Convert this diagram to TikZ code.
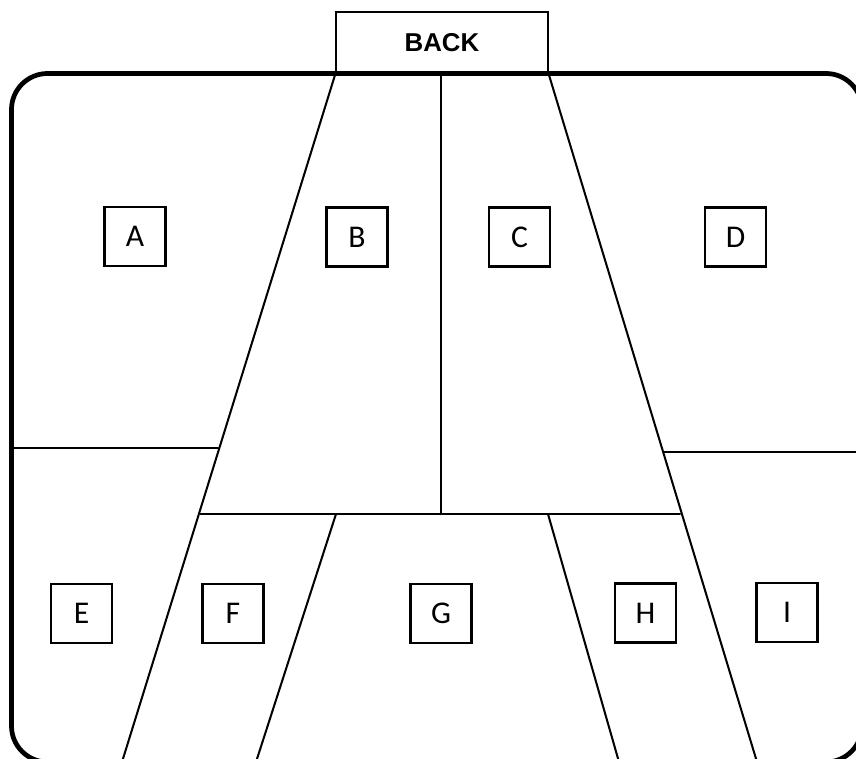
\documentclass[tikz,border=0pt]{standalone}
\usepackage{fontspec}
\setmainfont{Carlito}
\newfontfamily\backfont{Liberation Sans}
\begin{document}
\begin{tikzpicture}[x=0.02cm,y=-0.02cm,
  thinline/.style={line width=1.15pt,line cap=round},
  outerline/.style={line width=2.7pt},
  labelbox/.style={draw,line width=1.3pt,minimum width=1.22cm,minimum height=1.18cm,inner sep=0pt,font=\fontsize{18pt}{20pt}\selectfont},
  backbox/.style={draw,line width=1.15pt,minimum width=4.24cm,minimum height=1.24cm,inner sep=0pt,font=\backfont\bfseries\fontsize{14.7pt}{17pt}\selectfont}]
\useasboundingbox (0,0) rectangle (856,758);
% back box
\node[backbox] (back) at (442,43) {BACK};
% coordinates
\coordinate (lb) at (122,762);
\coordinate (rb) at (757,762);
\coordinate (ae1) at (11,448);
\coordinate (ae2) at (218,448);
\coordinate (h1) at (200,514);
\coordinate (h2) at (680,514);
\coordinate (v1) at (441,74);
\coordinate (v2) at (441,514);
\coordinate (di1) at (664,452);
\coordinate (di2) at (870,452);
\coordinate (fg1) at (336,514);
\coordinate (fg2) at (256,762);
\coordinate (gh1) at (548,514);
\coordinate (gh2) at (619,762);
% lines
\draw[thinline] (back.south west) -- (lb);
\draw[thinline] (back.south east) -- (rb);
\draw[thinline] (ae1) -- (ae2);
\draw[thinline] (h1) -- (h2);
\draw[thinline] (v1) -- (v2);
\draw[thinline] (di1) -- (di2);
\draw[thinline] (fg1) -- (fg2);
\draw[thinline] (gh1) -- (gh2);
% outer frame (right side and bottom lie just outside the picture)
\coordinate (f1) at (862,130);
\coordinate (f2) at (862,73.5);
\coordinate (f3) at (11.5,73.5);
\coordinate (f4) at (11.5,762);
\coordinate (f5) at (862,762);
\coordinate (f6) at (862,700);
\draw[outerline,rounded corners=0.72cm] (f1) -- (f2) -- (f3) -- (f4) -- (f5) -- (f6);
% labels
\node[labelbox] (A) at (135,236.5) {A};
\node[labelbox] (B) at (357,237) {B};
\node[labelbox] (C) at (519.5,237) {C};
\node[labelbox] (D) at (735.5,237) {D};
\node[labelbox] (E) at (81.5,613.5) {E};
\node[labelbox] (F) at (233,613.5) {F};
\node[labelbox] (G) at (441,613.5) {G};
\node[labelbox] (H) at (645.5,613) {H};
\node[labelbox] (I) at (787,612.5) {I};
\end{tikzpicture}
\end{document}
